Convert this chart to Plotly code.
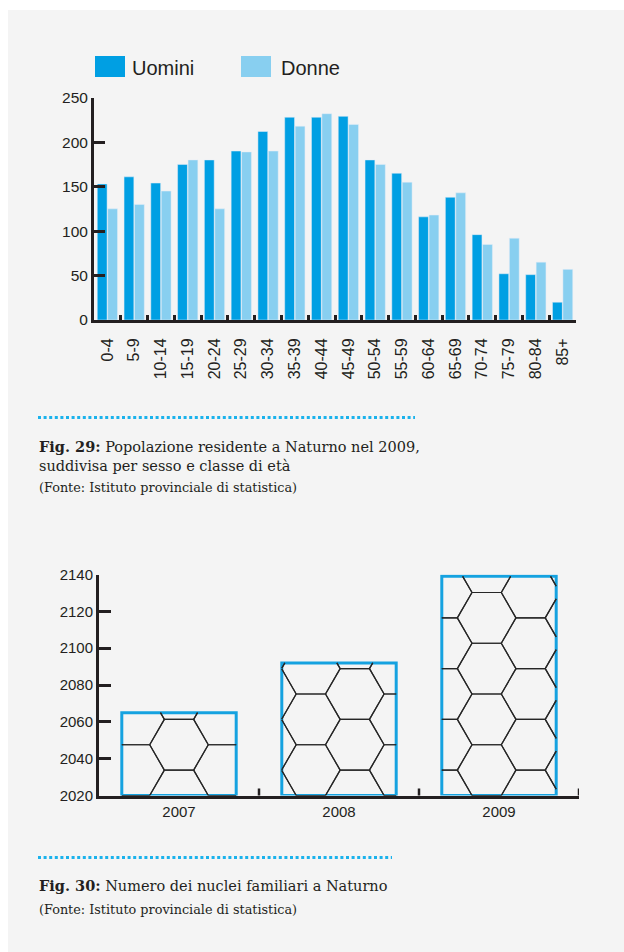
import math
import plotly.graph_objects as go

# ---------------- data ----------------
age_classes = ["0-4", "5-9", "10-14", "15-19", "20-24", "25-29", "30-34", "35-39",
               "40-44", "45-49", "50-54", "55-59", "60-64", "65-69", "70-74", "75-79",
               "80-84", "85+"]
uomini = [153, 161, 154, 175, 180, 190, 212, 228, 228, 229, 180, 165, 116, 138, 96, 52, 51, 20]
donne = [125, 130, 145, 180, 125, 189, 190, 218, 232, 220, 175, 155, 118, 143, 85, 92, 65, 57]
pop_ticks = [0, 50, 100, 150, 200, 250]

years = ["2007", "2008", "2009"]
nuclei = [2065, 2092, 2139]
nuclei_ticks = [2020, 2040, 2060, 2080, 2100, 2120, 2140]

# ---------------- layout constants (pixels) ----------------
W, H = 624, 952
C_UOM = "#009fe3"
C_DON = "#88cff0"
C_AX = "#231f20"
C_BAR2 = "#15a2e0"
C_DOT = "#1ab2ec"
BG = "#f4f4f4"

TOP_X = (94, 576)
TOP_Y = (97.7, 320)      # top px, bottom px
BOT_X = (99, 579)
BOT_Y = (574.5, 795.5)


def fx(px):
    return px / W


def fy(py):
    return 1 - py / H


fig = go.Figure()

fig.add_trace(go.Bar(x=age_classes, y=uomini, name="Uomini", marker_color=C_UOM,
                     xaxis="x", yaxis="y", showlegend=False))
fig.add_trace(go.Bar(x=age_classes, y=donne, name="Donne", marker_color=C_DON,
                     xaxis="x", yaxis="y", showlegend=False))

# ---------------- hexagon pattern for the second chart ----------------
x_idx = list(range(len(years)))
bar_w = 0.715
y0 = nuclei_ticks[0]
y1 = nuclei_ticks[-1]
px_per_x = (BOT_X[1] - BOT_X[0]) / len(years)
px_per_y = (BOT_Y[1] - BOT_Y[0]) / (y1 - y0)


def to_px(xd, yd):
    return (BOT_X[0] + (xd + 0.5) * px_per_x, BOT_Y[1] - (yd - y0) * px_per_y)


def to_data(px, py):
    return ((px - BOT_X[0]) / px_per_x - 0.5, y0 + (BOT_Y[1] - py) / px_per_y)


def clip(p, q, xmin, xmax, ymin, ymax):
    (x_a, y_a), (x_b, y_b) = p, q
    dx, dy = x_b - x_a, y_b - y_a
    t0, t1 = 0.0, 1.0
    for pp, qq in ((-dx, x_a - xmin), (dx, xmax - x_a), (-dy, y_a - ymin), (dy, ymax - y_a)):
        if pp == 0:
            if qq < 0:
                return None
        else:
            t = qq / pp
            if pp < 0:
                t0 = max(t0, t)
            else:
                t1 = min(t1, t)
    if t0 >= t1:
        return None
    return (x_a + t0 * dx, y_a + t0 * dy), (x_a + t1 * dx, y_a + t1 * dy)


r = 29.3
hh = math.sqrt(3) * r
ox, oy = to_px(0, y0)  # pattern origin: first bar centre at baseline
hx, hy = [], []
for i, v in zip(x_idx, nuclei):
    lx, by = to_px(i - bar_w / 2, y0)
    rx, ty = to_px(i + bar_w / 2, v)
    kmin = int(math.floor((lx - ox) / (1.5 * r))) - 1
    kmax = int(math.ceil((rx - ox) / (1.5 * r))) + 1
    for k in range(kmin, kmax + 1):
        cx = ox + 1.5 * r * k
        off = (hh / 2) if k % 2 else 0
        jmax = int(math.ceil((by - ty) / hh)) + 2
        for j in range(-1, jmax + 1):
            cy = oy - off - hh * j
            verts = [(cx + r * math.cos(math.radians(a)), cy + r * math.sin(math.radians(a)))
                     for a in range(0, 360, 60)]
            for m in range(6):
                seg = clip(verts[m], verts[(m + 1) % 6], lx, rx, ty, by)
                if seg:
                    for (sx, sy) in seg:
                        dxv, dyv = to_data(sx, sy)
                        hx.append(dxv)
                        hy.append(dyv)
                    hx.append(None)
                    hy.append(None)

fig.add_trace(go.Scatter(x=hx, y=hy, mode="lines", line=dict(color="#262626", width=1.2),
                         xaxis="x2", yaxis="y2", hoverinfo="skip", showlegend=False))
fig.add_trace(go.Bar(x=x_idx, y=[v - y0 for v in nuclei], base=y0, width=bar_w,
                     marker=dict(color="rgba(0,0,0,0)", line=dict(color=C_BAR2, width=3)),
                     xaxis="x2", yaxis="y2", showlegend=False, hoverinfo="skip"))

axis_common = dict(showline=True, linecolor=C_AX, linewidth=3, showgrid=False, zeroline=False,
                   ticks="inside", tickcolor=C_AX, fixedrange=True,
                   tickfont=dict(family="Liberation Sans, Arial, sans-serif", size=16, color=C_AX))

fig.update_layout(
    width=W, height=H,
    margin=dict(l=0, r=0, t=0, b=0, autoexpand=False),
    paper_bgcolor="white", plot_bgcolor="rgba(0,0,0,0)",
    barmode="group", bargap=0.22, bargroupgap=0.06,
    showlegend=False,
    xaxis=dict(axis_common, domain=[fx(TOP_X[0]), fx(TOP_X[1])], anchor="y",
               type="category", range=[-0.5, len(age_classes) - 0.5],
               tickson="boundaries", ticklen=5, tickwidth=2.5, tickangle=-90,
               ticklabelstandoff=9,
               tickfont=dict(family="Liberation Sans, Arial, sans-serif", size=16, color=C_AX)),
    yaxis=dict(axis_common, domain=[fy(TOP_Y[1]), fy(TOP_Y[0])], anchor="x",
               range=[0, 250], tickvals=pop_ticks, ticklen=11, tickwidth=2.5,
               tickfont=dict(family="Liberation Sans, Arial, sans-serif", size=15.5, color=C_AX)),
    xaxis2=dict(axis_common, domain=[fx(BOT_X[0]), fx(BOT_X[1])], anchor="y2",
                range=[-0.5, len(years) - 0.5], tickvals=x_idx, ticktext=years,
                ticks="", ticklen=0,
                tickfont=dict(family="Liberation Sans, Arial, sans-serif", size=15, color=C_AX)),
    yaxis2=dict(axis_common, domain=[fy(BOT_Y[1]), fy(BOT_Y[0])], anchor="x2",
                range=[y0, y1], tickvals=nuclei_ticks, ticklen=12, tickwidth=2.5,
                tickfont=dict(family="Liberation Sans, Arial, sans-serif", size=15, color=C_AX)),
)

shapes = [
    dict(type="rect", xref="paper", yref="paper", x0=fx(8), x1=1, y0=0, y1=fy(10),
         fillcolor=BG, line=dict(width=0), layer="below"),
    # legend swatches
    dict(type="rect", xref="paper", yref="paper", x0=fx(95), x1=fx(125), y0=fy(77), y1=fy(56),
         fillcolor=C_UOM, line=dict(width=0)),
    dict(type="rect", xref="paper", yref="paper", x0=fx(241), x1=fx(271), y0=fy(77), y1=fy(56),
         fillcolor=C_DON, line=dict(width=0)),
    # dotted separators
    dict(type="line", xref="paper", yref="paper", x0=fx(38), x1=fx(415), y0=fy(417.5), y1=fy(417.5),
         line=dict(color=C_DOT, width=3, dash="3px,2.6px")),
    dict(type="line", xref="paper", yref="paper", x0=fx(38), x1=fx(392), y0=fy(857.5), y1=fy(857.5),
         line=dict(color=C_DOT, width=3, dash="3px,2.6px")),
]
# boundary ticks of the second x axis
for b in range(len(years)):
    xb = b + 0.5
    shapes.append(dict(type="line", xref="x2", yref="paper", x0=xb, x1=xb,
                       y0=fy(BOT_Y[1]), y1=fy(BOT_Y[1] - 7), line=dict(color=C_AX, width=2.5)))

SERIF = "DejaVu Serif, Liberation Serif, serif"
SANS = "Liberation Sans, Arial, sans-serif"
ann = [
    dict(text="Uomini", x=fx(130), y=fy(68), font=dict(family=SANS, size=20, color=C_AX)),
    dict(text="Donne", x=fx(279), y=fy(68), font=dict(family=SANS, size=20, color=C_AX)),
    dict(text="<b>Fig. 29:</b> Popolazione residente a Naturno nel 2009,", x=fx(37), y=fy(446),
         font=dict(family=SERIF, size=14.5, color=C_AX)),
    dict(text="suddivisa per sesso e classe di età", x=fx(37), y=fy(466),
         font=dict(family=SERIF, size=14.5, color=C_AX)),
    dict(text="(Fonte: Istituto provinciale di statistica)", x=fx(37), y=fy(488),
         font=dict(family=SERIF, size=12.8, color=C_AX)),
    dict(text="<b>Fig. 30:</b> Numero dei nuclei familiari a Naturno", x=fx(37), y=fy(885),
         font=dict(family=SERIF, size=14.5, color=C_AX)),
    dict(text="(Fonte: Istituto provinciale di statistica)", x=fx(37), y=fy(909),
         font=dict(family=SERIF, size=12.8, color=C_AX)),
]
for a in ann:
    a.update(xref="paper", yref="paper", xanchor="left", yanchor="middle", showarrow=False)

fig.update_layout(shapes=shapes, annotations=ann)

PAGE_FIX = (
    "var de=document.documentElement,b=document.body;"
    "[de,b].forEach(function(e){e.style.margin='0';e.style.padding='0';"
    "e.style.overflow='hidden';e.style.height='952px';});"
)
fig.write_html("out.html", config={"displayModeBar": False}, post_script=PAGE_FIX)
